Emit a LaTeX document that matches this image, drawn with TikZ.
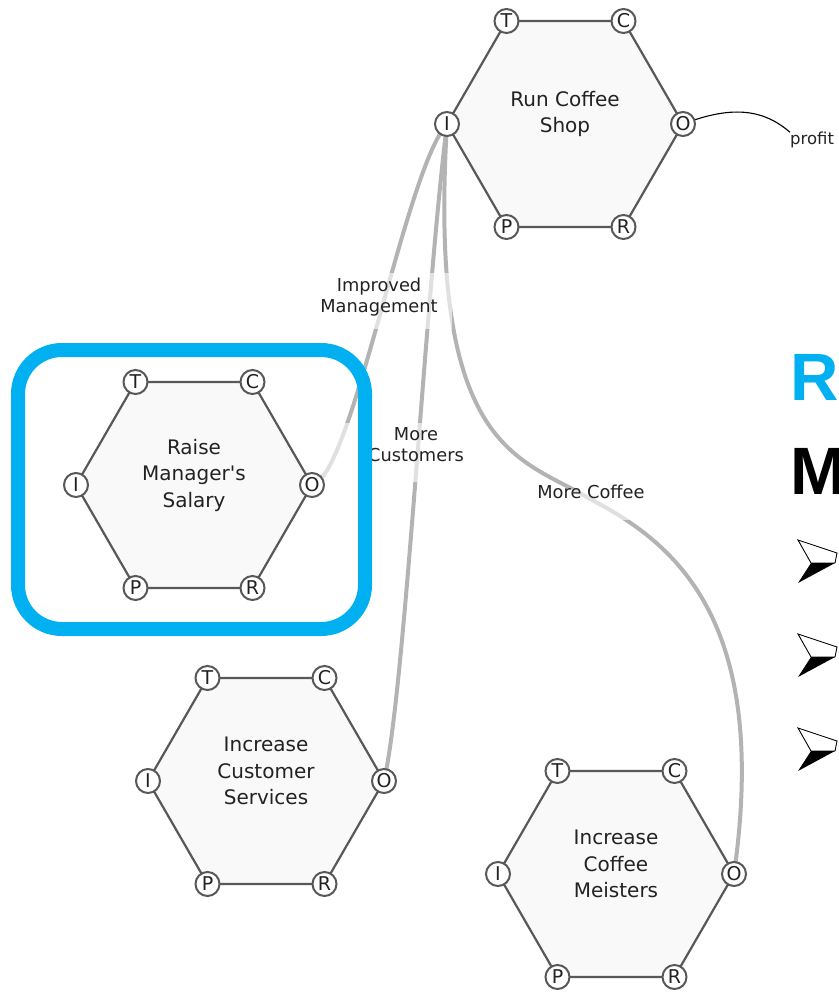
\documentclass[tikz,border=0pt]{standalone}
\usepackage{fontspec}
\setmainfont{DejaVu Sans}[Ligatures=TeXOff]
\newfontfamily\headfont{Liberation Sans}
\usetikzlibrary{calc}
\definecolor{linkgray}{HTML}{B3B3B3}
\definecolor{edgegray}{HTML}{585858}
\definecolor{hexfill}{HTML}{F9F9F9}
\definecolor{txt}{HTML}{222222}
\definecolor{hiblue}{HTML}{00B0F0}
\pgfdeclarelayer{links}
\pgfdeclarelayer{veil}
\pgfdeclarelayer{hex}
\pgfsetlayers{links,veil,hex,main}
\newcommand\hexunit[4]{%
  \node[port] (#1T) at (#2-58.5,#3-103) {T};
  \node[port] (#1C) at (#2+58.5,#3-103) {C};
  \node[port] (#1I) at (#2-118,#3) {I};
  \node[port] (#1O) at (#2+118,#3) {O};
  \node[port] (#1P) at (#2-58.5,#3+103) {P};
  \node[port] (#1R) at (#2+58.5,#3+103) {R};
  \node[hexlabel] (#1L) at (#2,#3-10) {#4};
  \begin{pgfonlayer}{hex}
    \draw[hexedge] (#1I.center) -- (#1T.center) -- (#1C.center) -- (#1O.center) -- (#1R.center) -- (#1P.center) -- cycle;
  \end{pgfonlayer}}
\begin{document}
\begin{tikzpicture}[x=1pt,y=-1pt,
  link/.style={draw=linkgray, line width=4},
  hexedge/.style={draw=edgegray, line width=2.2, fill=hexfill, line join=round},
  port/.style={circle, draw=edgegray, line width=2, fill=white, minimum size=24pt, inner sep=0pt, font=\fontsize{19}{19}\selectfont, text=txt},
  hexlabel/.style={align=center, font=\fontsize{20}{26.5}\selectfont, text=txt},
  linklabel/.style={align=center, font=\fontsize{17.8}{21}\selectfont, text=txt, inner sep=0pt},
  veilbox/.style={fill=white, fill opacity=0.6, draw=none},
  arrowface/.style={fill=white, draw=black, line width=0.9, line join=miter}]
\useasboundingbox (0,0) rectangle (838,992);
\clip (0,0) rectangle (838,992);

\hexunit{top}{565}{124}{Run Coffee\\Shop}
\hexunit{raise}{194}{485}{Raise\\Manager's\\Salary}
\hexunit{cust}{266}{781}{Increase\\Customer\\Services}
\hexunit{mei}{616}{874}{Increase\\Coffee\\Meisters}

\coordinate (mc) at (590,499);
\node[anchor=base west, inner sep=0pt, font=\fontsize{16.5}{16.5}\selectfont, text=txt] (profit) at (790,145) {profit};

\begin{pgfonlayer}{links}
  \draw[link] (raiseO.center) .. controls (352,478) and (405,170) .. (topI.center);
  \draw[link] (custO.center) .. controls (405,690) and (425,300) .. (topI.center);
  \draw[link] (topI.center) .. controls (427,455) and (522,457) .. (mc)
              .. controls (675,543) and (770,620) .. (meiO.center);
  \draw[black, line width=1.1] (topO.center) .. controls (730,106) and (762,108) .. (profit.north west);
\end{pgfonlayer}

\begin{pgfonlayer}{veil}
  \fill[veilbox] (316,273) rectangle (452,329);
  \fill[veilbox] (322,423) rectangle (466,482);
  \fill[veilbox] (532,489) rectangle (652,520);
\end{pgfonlayer}

\node[linklabel] (lblIM) at (379,297) {Improved\\Management};
\node[linklabel] (lblMC) at (416,445) {More\\Customers};
\node[linklabel] (lblCF) at (591,492) {More Coffee};

\draw[line width=14, draw=hiblue, rounded corners=44] (18,350) rectangle (365,629);

\node[anchor=base west, inner sep=0pt, font=\headfont\bfseries\fontsize{67}{67}\selectfont, text=hiblue] (headR) at (790,400) {R};
\node[anchor=base west, inner sep=0pt, font=\headfont\bfseries\fontsize{67}{67}\selectfont, text=black] (headM) at (790,494) {M};

\foreach \dy in {0,94,188} {
  \begin{scope}[shift={(0,\dy)}]
    \draw[arrowface] (798,540) -- (837,553) -- (835,563) -- (811,563) -- cycle;
    \fill[black] (811,563) -- (835,563) -- (798,583) -- cycle;
  \end{scope}
}
\end{tikzpicture}
\end{document}
